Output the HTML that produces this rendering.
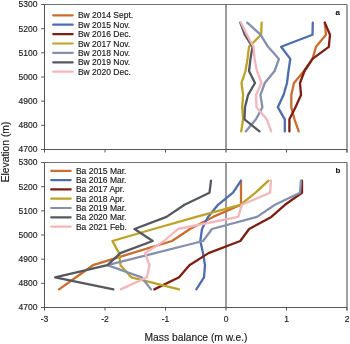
<!DOCTYPE html>
<html><head><meta charset="utf-8"><style>
html,body{margin:0;padding:0;background:#fff;}
svg{display:block;will-change:transform;}
text{font-family:"Liberation Sans",sans-serif;fill:#1a1a1a;stroke:#1a1a1a;stroke-width:0.15px;}
.tk{font-size:8.5px;}
.lg{font-size:8.5px;}
.ti{font-size:10.3px;}
.lt{font-size:8px;font-weight:bold;}
</style></head><body>
<svg width="350" height="344" viewBox="0 0 350 344">
<rect width="350" height="344" fill="#fff"/>
<line x1="44.5" y1="4.5" x2="347.0" y2="4.5" stroke="#707070" stroke-width="1"/>
<line x1="347.0" y1="4.5" x2="347.0" y2="149.5" stroke="#707070" stroke-width="1.3"/>
<line x1="226.0" y1="4.5" x2="226.0" y2="152.5" stroke="#7a7a7a" stroke-width="1.5"/>
<line x1="44.5" y1="4.5" x2="44.5" y2="152.5" stroke="#555555" stroke-width="1"/>
<line x1="41.2" y1="149.5" x2="347.0" y2="149.5" stroke="#555555" stroke-width="1"/>
<line x1="41.2" y1="4.50" x2="44.5" y2="4.50" stroke="#555555" stroke-width="1"/>
<text x="37.4" y="7.40" text-anchor="end" class="tk">5300</text>
<line x1="41.2" y1="28.67" x2="44.5" y2="28.67" stroke="#555555" stroke-width="1"/>
<text x="37.4" y="31.57" text-anchor="end" class="tk">5200</text>
<line x1="41.2" y1="52.83" x2="44.5" y2="52.83" stroke="#555555" stroke-width="1"/>
<text x="37.4" y="55.73" text-anchor="end" class="tk">5100</text>
<line x1="41.2" y1="77.00" x2="44.5" y2="77.00" stroke="#555555" stroke-width="1"/>
<text x="37.4" y="79.90" text-anchor="end" class="tk">5000</text>
<line x1="41.2" y1="101.17" x2="44.5" y2="101.17" stroke="#555555" stroke-width="1"/>
<text x="37.4" y="104.07" text-anchor="end" class="tk">4900</text>
<line x1="41.2" y1="125.33" x2="44.5" y2="125.33" stroke="#555555" stroke-width="1"/>
<text x="37.4" y="128.23" text-anchor="end" class="tk">4800</text>
<line x1="41.2" y1="149.50" x2="44.5" y2="149.50" stroke="#555555" stroke-width="1"/>
<text x="37.4" y="152.40" text-anchor="end" class="tk">4700</text>
<line x1="105.0" y1="149.5" x2="105.0" y2="152.5" stroke="#555555" stroke-width="1"/>
<line x1="165.5" y1="149.5" x2="165.5" y2="152.5" stroke="#555555" stroke-width="1"/>
<line x1="286.5" y1="149.5" x2="286.5" y2="152.5" stroke="#555555" stroke-width="1"/>
<line x1="347.0" y1="149.5" x2="347.0" y2="152.5" stroke="#555555" stroke-width="1"/>
<line x1="347.0" y1="149.5" x2="347.0" y2="152.5" stroke="#555555" stroke-width="1"/>
<polyline points="324.8,22.6 326.0,34.7 316.0,46.8 312.5,58.9 304.0,71.0 294.0,83.0 291.3,95.1 291.3,107.2 294.5,119.3 298.7,131.4" fill="none" stroke="#CA6D2F" stroke-width="2.3" stroke-linejoin="round" stroke-linecap="round"/>
<polyline points="312.8,22.6 312.5,34.7 281.1,46.8 290.3,58.9 288.5,71.0 287.0,83.0 283.5,95.1 277.8,107.2 284.8,119.3 284.8,131.4" fill="none" stroke="#4E6DAE" stroke-width="2.3" stroke-linejoin="round" stroke-linecap="round"/>
<polyline points="324.8,22.6 330.0,34.7 328.8,46.8 312.5,58.9 304.5,71.0 300.0,83.0 301.0,95.1 295.5,107.2 289.4,119.3 289.4,131.4" fill="none" stroke="#7D1F12" stroke-width="2.3" stroke-linejoin="round" stroke-linecap="round"/>
<polyline points="261.7,22.6 261.1,34.7 249.0,46.8 247.5,58.9 245.5,71.0 241.5,83.0 243.1,95.1 242.2,107.2 243.1,119.3 241.2,131.4" fill="none" stroke="#BEA226" stroke-width="2.3" stroke-linejoin="round" stroke-linecap="round"/>
<polyline points="247.2,22.6 260.5,34.7 268.1,46.8 279.0,58.9 274.6,71.0 264.8,83.0 260.4,95.1 262.4,107.2 256.0,119.3 245.7,131.4" fill="none" stroke="#8590AE" stroke-width="2.3" stroke-linejoin="round" stroke-linecap="round"/>
<polyline points="240.3,22.6 244.8,34.7 252.5,46.8 250.5,58.9 249.0,71.0 255.0,83.0 248.0,95.1 245.0,107.2 244.5,119.3 259.5,131.4" fill="none" stroke="#55585F" stroke-width="2.3" stroke-linejoin="round" stroke-linecap="round"/>
<polyline points="240.9,22.6 247.0,34.7 253.5,46.8 254.5,58.9 257.0,71.0 261.5,83.0 256.0,95.1 256.5,107.2 266.8,119.3 271.2,131.4" fill="none" stroke="#F2B6BB" stroke-width="2.3" stroke-linejoin="round" stroke-linecap="round"/>
<line x1="53.2" y1="15.30" x2="72.7" y2="15.30" stroke="#CA6D2F" stroke-width="2.2" stroke-linecap="round"/>
<text x="77.9" y="18.30" class="lg">Bw 2014 Sept.</text>
<line x1="53.2" y1="24.70" x2="72.7" y2="24.70" stroke="#4E6DAE" stroke-width="2.2" stroke-linecap="round"/>
<text x="77.9" y="27.70" class="lg">Bw 2015 Nov.</text>
<line x1="53.2" y1="34.10" x2="72.7" y2="34.10" stroke="#7D1F12" stroke-width="2.2" stroke-linecap="round"/>
<text x="77.9" y="37.10" class="lg">Bw 2016 Dec.</text>
<line x1="53.2" y1="43.50" x2="72.7" y2="43.50" stroke="#BEA226" stroke-width="2.2" stroke-linecap="round"/>
<text x="77.9" y="46.50" class="lg">Bw 2017 Nov.</text>
<line x1="53.2" y1="52.90" x2="72.7" y2="52.90" stroke="#8590AE" stroke-width="2.2" stroke-linecap="round"/>
<text x="77.9" y="55.90" class="lg">Bw 2018 Nov.</text>
<line x1="53.2" y1="62.30" x2="72.7" y2="62.30" stroke="#55585F" stroke-width="2.2" stroke-linecap="round"/>
<text x="77.9" y="65.30" class="lg">Bw 2019 Nov.</text>
<line x1="53.2" y1="71.70" x2="72.7" y2="71.70" stroke="#F2B6BB" stroke-width="2.2" stroke-linecap="round"/>
<text x="77.9" y="74.70" class="lg">Bw 2020 Dec.</text>
<text x="335.5" y="15.2" class="lt">a</text>
<line x1="44.5" y1="162.5" x2="347.0" y2="162.5" stroke="#707070" stroke-width="1"/>
<line x1="347.0" y1="162.5" x2="347.0" y2="307.5" stroke="#707070" stroke-width="1.3"/>
<line x1="226.0" y1="162.5" x2="226.0" y2="310.5" stroke="#7a7a7a" stroke-width="1.5"/>
<line x1="44.5" y1="162.5" x2="44.5" y2="310.5" stroke="#555555" stroke-width="1"/>
<line x1="41.2" y1="307.5" x2="347.0" y2="307.5" stroke="#555555" stroke-width="1"/>
<line x1="41.2" y1="162.50" x2="44.5" y2="162.50" stroke="#555555" stroke-width="1"/>
<text x="37.4" y="165.40" text-anchor="end" class="tk">5300</text>
<line x1="41.2" y1="186.67" x2="44.5" y2="186.67" stroke="#555555" stroke-width="1"/>
<text x="37.4" y="189.57" text-anchor="end" class="tk">5200</text>
<line x1="41.2" y1="210.83" x2="44.5" y2="210.83" stroke="#555555" stroke-width="1"/>
<text x="37.4" y="213.73" text-anchor="end" class="tk">5100</text>
<line x1="41.2" y1="235.00" x2="44.5" y2="235.00" stroke="#555555" stroke-width="1"/>
<text x="37.4" y="237.90" text-anchor="end" class="tk">5000</text>
<line x1="41.2" y1="259.17" x2="44.5" y2="259.17" stroke="#555555" stroke-width="1"/>
<text x="37.4" y="262.07" text-anchor="end" class="tk">4900</text>
<line x1="41.2" y1="283.33" x2="44.5" y2="283.33" stroke="#555555" stroke-width="1"/>
<text x="37.4" y="286.23" text-anchor="end" class="tk">4800</text>
<line x1="41.2" y1="307.50" x2="44.5" y2="307.50" stroke="#555555" stroke-width="1"/>
<text x="37.4" y="310.40" text-anchor="end" class="tk">4700</text>
<line x1="105.0" y1="307.5" x2="105.0" y2="310.5" stroke="#555555" stroke-width="1"/>
<line x1="165.5" y1="307.5" x2="165.5" y2="310.5" stroke="#555555" stroke-width="1"/>
<line x1="286.5" y1="307.5" x2="286.5" y2="310.5" stroke="#555555" stroke-width="1"/>
<line x1="347.0" y1="307.5" x2="347.0" y2="310.5" stroke="#555555" stroke-width="1"/>
<line x1="347.0" y1="307.5" x2="347.0" y2="310.5" stroke="#555555" stroke-width="1"/>
<polyline points="241.0,180.6 241.0,192.7 241.0,204.8 213.0,216.9 190.0,229.0 172.0,241.0 132.0,253.1 93.0,265.2 76.0,277.3 59.0,289.4" fill="none" stroke="#CA6D2F" stroke-width="2.3" stroke-linejoin="round" stroke-linecap="round"/>
<polyline points="241.0,180.6 233.0,192.7 218.0,204.8 208.0,216.9 202.0,229.0 200.3,241.0 203.0,253.1 205.0,265.2 204.0,277.3 196.3,289.4" fill="none" stroke="#4E6DAE" stroke-width="2.3" stroke-linejoin="round" stroke-linecap="round"/>
<polyline points="302.0,180.6 302.0,192.7 285.0,204.8 271.3,216.9 249.1,229.0 240.3,241.0 208.5,253.1 189.4,265.2 179.1,277.3 154.3,289.4" fill="none" stroke="#7D1F12" stroke-width="2.3" stroke-linejoin="round" stroke-linecap="round"/>
<polyline points="268.5,180.6 255.6,192.7 240.3,204.8 196.3,216.9 153.5,229.0 112.4,241.0 119.0,253.1 120.5,265.2 131.3,277.3 179.0,289.4" fill="none" stroke="#BEA226" stroke-width="2.3" stroke-linejoin="round" stroke-linecap="round"/>
<polyline points="301.0,180.6 300.0,192.7 275.0,204.8 257.0,216.9 212.0,229.0 203.0,241.0 155.0,253.1 107.4,265.2 141.6,277.3 151.0,289.4" fill="none" stroke="#8590AE" stroke-width="2.3" stroke-linejoin="round" stroke-linecap="round"/>
<polyline points="211.0,180.6 209.5,192.7 184.5,204.8 166.5,216.9 134.5,229.0 152.7,241.0 120.3,253.1 107.5,265.2 55.1,277.3 113.4,289.4" fill="none" stroke="#55585F" stroke-width="2.3" stroke-linejoin="round" stroke-linecap="round"/>
<polyline points="271.0,180.6 270.0,192.7 241.8,204.8 238.2,216.9 178.0,229.0 164.0,241.0 145.1,253.1 149.4,265.2 147.0,277.3 120.8,289.4" fill="none" stroke="#F2B6BB" stroke-width="2.3" stroke-linejoin="round" stroke-linecap="round"/>
<line x1="51.2" y1="170.80" x2="70.7" y2="170.80" stroke="#CA6D2F" stroke-width="2.2" stroke-linecap="round"/>
<text x="75.9" y="173.80" class="lg">Ba 2015 Mar.</text>
<line x1="51.2" y1="180.10" x2="70.7" y2="180.10" stroke="#4E6DAE" stroke-width="2.2" stroke-linecap="round"/>
<text x="75.9" y="183.10" class="lg">Ba 2016 Mar.</text>
<line x1="51.2" y1="189.40" x2="70.7" y2="189.40" stroke="#7D1F12" stroke-width="2.2" stroke-linecap="round"/>
<text x="75.9" y="192.40" class="lg">Ba 2017 Apr.</text>
<line x1="51.2" y1="198.70" x2="70.7" y2="198.70" stroke="#BEA226" stroke-width="2.2" stroke-linecap="round"/>
<text x="75.9" y="201.70" class="lg">Ba 2018 Apr.</text>
<line x1="51.2" y1="208.00" x2="70.7" y2="208.00" stroke="#8590AE" stroke-width="2.2" stroke-linecap="round"/>
<text x="75.9" y="211.00" class="lg">Ba 2019 Mar.</text>
<line x1="51.2" y1="217.30" x2="70.7" y2="217.30" stroke="#55585F" stroke-width="2.2" stroke-linecap="round"/>
<text x="75.9" y="220.30" class="lg">Ba 2020 Mar.</text>
<line x1="51.2" y1="226.60" x2="70.7" y2="226.60" stroke="#F2B6BB" stroke-width="2.2" stroke-linecap="round"/>
<text x="75.9" y="229.60" class="lg">Ba 2021 Feb.</text>
<text x="335.5" y="173.1" class="lt">b</text>
<text x="44.5" y="322" text-anchor="middle" class="tk">-3</text>
<text x="105.0" y="322" text-anchor="middle" class="tk">-2</text>
<text x="165.5" y="322" text-anchor="middle" class="tk">-1</text>
<text x="226.0" y="322" text-anchor="middle" class="tk">0</text>
<text x="286.5" y="322" text-anchor="middle" class="tk">1</text>
<text x="347.0" y="322" text-anchor="middle" class="tk">2</text>
<text x="196" y="340.9" text-anchor="middle" class="ti">Mass balance (m w.e.)</text>
<text transform="translate(9.3 152) rotate(-90)" text-anchor="middle" class="ti">Elevation (m)</text>
</svg>
</body></html>
